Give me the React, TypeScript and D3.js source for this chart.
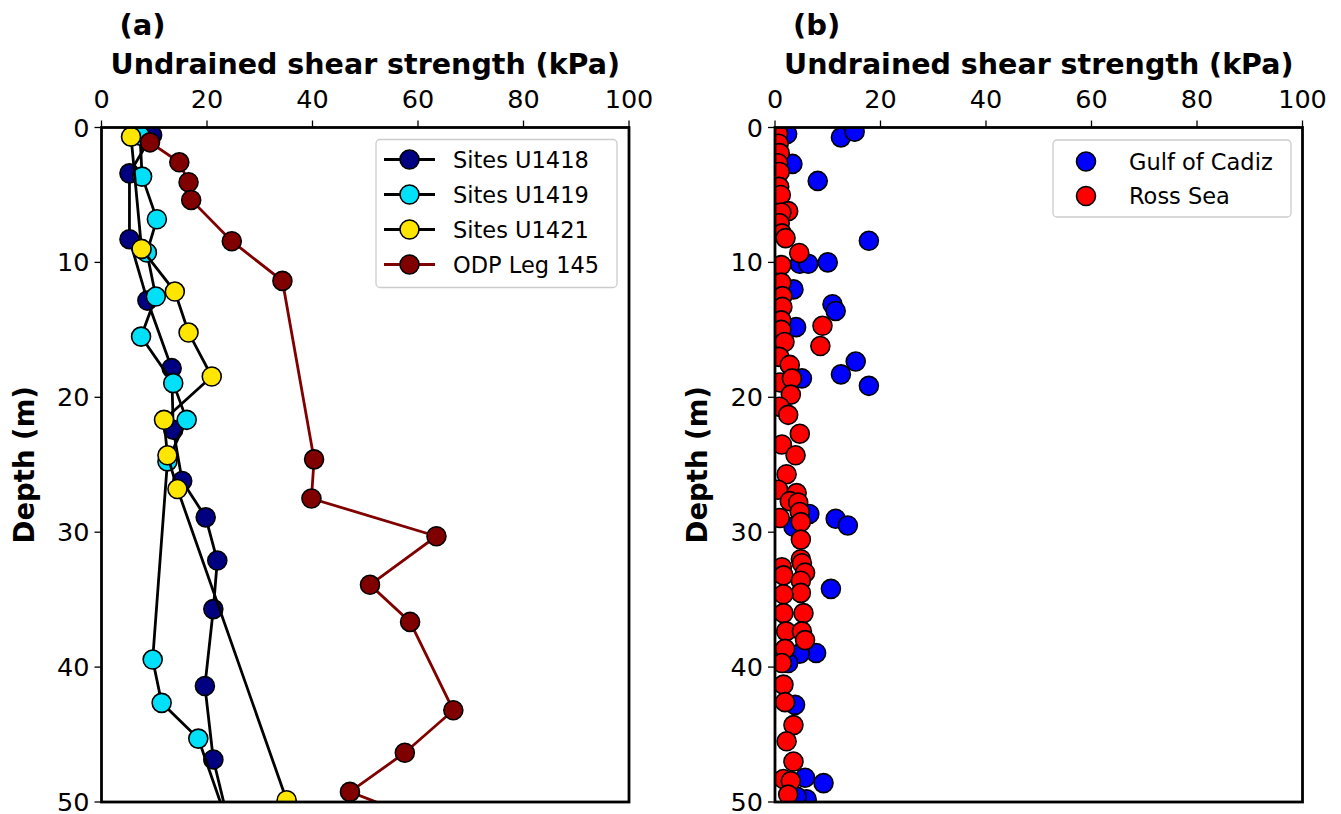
import React from "react";
import * as d3 from "d3";

// ---------- data (value kPa, depth m) ----------
const u1418Strength = [9.6, 5.3, 5.3, 8.7, 13.3, 13.6, 15.3, 19.75, 21.95, 21.2, 19.6, 21.2, 24.4];
const u1418Depth = [0.56, 3.4, 8.28, 12.83, 17.84, 22.4, 26.2, 28.9, 32.1, 35.7, 41.4, 46.85, 52.0];

const u1419Strength = [7.3, 7.7, 10.5, 8.6, 10.3, 7.5, 13.6, 16.15, 12.5, 9.7, 11.4, 18.35, 24.3];
const u1419Depth = [0.6, 3.64, 6.8, 9.27, 12.53, 15.5, 18.95, 21.67, 24.75, 39.44, 42.65, 45.3, 52.0];

const u1421Strength = [5.6, 7.6, 13.9, 16.5, 20.9, 11.85, 12.5, 14.4, 35.1];
const u1421Depth = [0.68, 9.0, 12.16, 15.2, 18.46, 21.67, 24.3, 26.8, 49.87];

const odpStrength = [9.2, 14.75, 16.5, 17.0, 24.7, 34.3, 40.3, 39.8, 63.5, 50.9, 58.5, 66.7, 57.5, 47.1, 62.0];
const odpDepth = [1.1, 2.58, 4.06, 5.37, 8.43, 11.37, 24.6, 27.5, 30.3, 33.9, 36.65, 43.2, 46.35, 49.25, 51.5];

const cadizStrength = [2.3, 12.5, 15.1, 3.3, 8.1, 17.8, 4.7, 6.3, 10.0, 3.5, 10.9, 11.5, 4.0, 15.3, 12.5, 17.8, 5.1, 6.5, 11.5, 13.8, 3.5, 10.6, 7.8, 4.7, 2.5, 3.8, 5.7, 9.2, 6.0, 4.1];
const cadizDepth = [0.48, 0.73, 0.31, 2.7, 3.96, 8.4, 10.1, 10.1, 10.0, 12.0, 13.1, 13.6, 14.8, 17.35, 18.3, 19.15, 18.6, 28.65, 29.0, 29.5, 29.6, 34.2, 38.95, 39.0, 39.7, 42.8, 48.2, 48.6, 49.8, 49.6];

const rossStrength = [0.6, 0.7, 0.9, 0.6, 0.9, 0.8, 1.1, 2.5, 1.2, 0.9, 1.3, 2.0, 4.6, 1.2, 1.2, 1.4, 1.4, 1.2, 9.0, 1.2, 1.8, 8.6, 0.8, 2.8, 1.0, 3.2, 3.0, 0.9, 2.5, 4.7, 1.3, 3.9, 2.2, 0.6, 4.1, 2.8, 4.4, 4.7, 0.9, 4.9, 4.9, 4.9, 1.3, 5.1, 5.7, 1.6, 4.9, 4.9, 1.6, 5.4, 1.6, 2.1, 5.1, 5.7, 1.9, 1.3, 1.6, 1.9, 3.5, 2.2, 3.5, 1.6, 3.0, 2.5];
const rossDepth = [0.45, 1.2, 1.9, 2.65, 3.3, 4.4, 5.0, 6.2, 6.3, 7.1, 7.85, 8.2, 9.3, 10.2, 11.5, 12.5, 13.3, 14.3, 14.7, 15.0, 15.9, 16.2, 17.0, 17.6, 18.9, 18.6, 19.8, 20.7, 21.3, 22.7, 23.5, 24.3, 25.7, 26.85, 27.1, 27.7, 27.8, 28.5, 28.95, 29.25, 30.55, 32.0, 32.6, 32.3, 33.0, 33.2, 33.6, 34.5, 34.6, 36.0, 36.0, 37.35, 37.35, 38.0, 38.65, 39.7, 41.3, 42.6, 44.3, 45.5, 47.0, 48.3, 48.45, 49.45];

const xTicks = [0, 20, 40, 60, 80, 100];
const yTicks = [0, 10, 20, 30, 40, 50];

const lineSeries = [
  { name: "Sites U1418", x: u1418Strength, y: u1418Depth, fill: "#000080", line: "#000000" },
  { name: "Sites U1419", x: u1419Strength, y: u1419Depth, fill: "#00E0F8", line: "#000000" },
  { name: "Sites U1421", x: u1421Strength, y: u1421Depth, fill: "#FFE600", line: "#000000" },
  { name: "ODP Leg 145", x: odpStrength, y: odpDepth, fill: "#800000", line: "#800000" },
];
const scatterSeries = [
  { name: "Gulf of Cadiz", x: cadizStrength, y: cadizDepth, fill: "#0000FF" },
  { name: "Ross Sea", x: rossStrength, y: rossDepth, fill: "#FF0000" },
];

const FONT = "DejaVu Sans";
const TOP = 127.5;
const BOTTOM = 802;
const R = 9.5;

function Axes({ left, right, id, label, children }: any) {
  const x = d3.scaleLinear().domain([0, 100]).range([left, right]);
  const y = d3.scaleLinear().domain([0, 50]).range([TOP, BOTTOM]);
  return (
    <g>
      <defs>
        <clipPath id={id}>
          <rect x={left} y={TOP} width={right - left} height={BOTTOM - TOP} />
        </clipPath>
      </defs>
      <g clipPath={`url(#${id})`}>{children(x, y)}</g>
      <rect x={left} y={TOP} width={right - left} height={BOTTOM - TOP} fill="none" stroke="#000" strokeWidth={2.8} />
      {xTicks.map((t) => (
        <g key={"x" + t}>
          <line x1={x(t)} x2={x(t)} y1={TOP} y2={TOP - 7} stroke="#000" strokeWidth={1.3} />
          <text x={x(t)} y={108} textAnchor="middle" fontFamily={FONT} fontSize={25.5}>{t}</text>
        </g>
      ))}
      {yTicks.map((t) => (
        <g key={"y" + t}>
          <line x1={left} x2={left - 7} y1={y(t)} y2={y(t)} stroke="#000" strokeWidth={1.3} />
          <text x={left - 12} y={y(t) + 9} textAnchor="end" fontFamily={FONT} fontSize={25.5}>{t}</text>
        </g>
      ))}
      <text x={(left + right) / 2} y={74} textAnchor="middle" fontFamily={FONT} fontWeight="bold" fontSize={28.5}>Undrained shear strength (kPa)</text>
      <text x={left + 18} y={35} fontFamily={FONT} fontWeight="bold" fontSize={29}>{label}</text>
      <text transform={`translate(${left - 68},${(TOP + BOTTOM) / 2}) rotate(-90)`} textAnchor="middle" fontFamily={FONT} fontWeight="bold" fontSize={27.5}>Depth (m)</text>
    </g>
  );
}

export default function App() {
  const lineGen = d3.line<[number, number]>();
  return (
    <svg width={1341} height={814} style={{ position: "absolute", left: 0, top: 0, background: "#fff" }}>
      <rect width={1341} height={814} fill="#fff" />
      <Axes left={101.5} right={629} id="clipA" label="(a)">
        {(x: any, y: any) =>
          lineSeries.map((s) => {
            const pts: [number, number][] = s.x.map((v, i) => [x(v), y(s.y[i])]);
            return (
              <g key={s.name}>
                <path d={lineGen(pts) || ""} fill="none" stroke={s.line} strokeWidth={2.8} />
                {pts.map((p, i) => (
                  <circle key={i} cx={p[0]} cy={p[1]} r={R} fill={s.fill} stroke="#000" strokeWidth={1.6} />
                ))}
              </g>
            );
          })
        }
      </Axes>
      <Axes left={775} right={1302.5} id="clipB" label="(b)">
        {(x: any, y: any) =>
          scatterSeries.map((s) => (
            <g key={s.name}>
              {s.x.map((v, i) => (
                <circle key={i} cx={x(v)} cy={y(s.y[i])} r={R} fill={s.fill} stroke="#000" strokeWidth={1.6} />
              ))}
            </g>
          ))
        }
      </Axes>
      {/* legend a */}
      <g>
        <rect x={376} y={139.5} width={241} height={148} rx={4} fill="#fff" fillOpacity={0.8} stroke="#cccccc" strokeWidth={1.3} />
        {lineSeries.map((s, i) => {
          const cy = 159.5 + i * 35;
          return (
            <g key={s.name}>
              <line x1={384} x2={435} y1={cy} y2={cy} stroke={s.line} strokeWidth={2.8} />
              <circle cx={409.5} cy={cy} r={R} fill={s.fill} stroke="#000" strokeWidth={1.6} />
              <text x={453} y={cy + 8} fontFamily={FONT} fontSize={22.5}>{s.name}</text>
            </g>
          );
        })}
      </g>
      {/* legend b */}
      <g>
        <rect x={1053} y={140} width={238} height={77} rx={4} fill="#fff" fillOpacity={0.8} stroke="#cccccc" strokeWidth={1.3} />
        {scatterSeries.map((s, i) => {
          const cy = 161.5 + i * 34.5;
          return (
            <g key={s.name}>
              <circle cx={1086} cy={cy} r={R} fill={s.fill} stroke="#000" strokeWidth={1.6} />
              <text x={1129} y={cy + 8} fontFamily={FONT} fontSize={22.5}>{s.name}</text>
            </g>
          );
        })}
      </g>
    </svg>
  );
}
